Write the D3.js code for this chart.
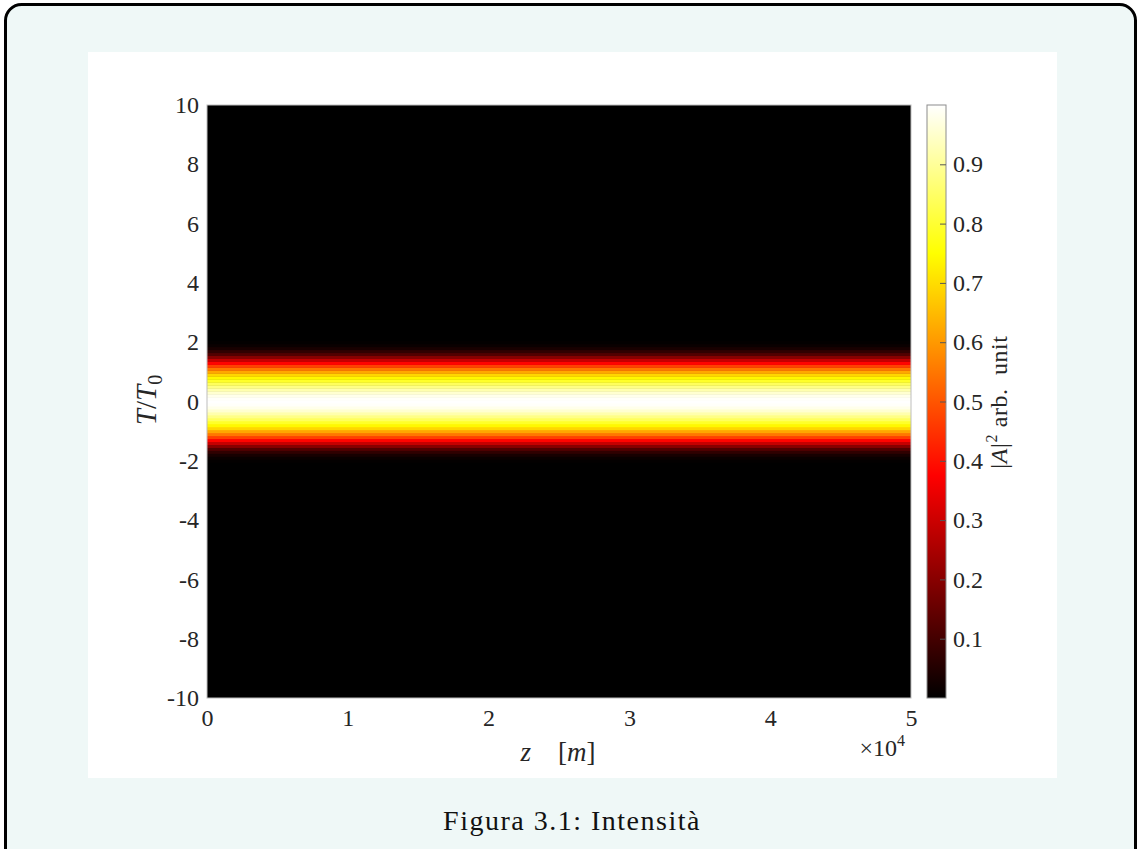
<!DOCTYPE html>
<html>
<head>
<meta charset="utf-8">
<script src="https://cdn.jsdelivr.net/npm/d3@7"></script>
<style>
  html, body { margin: 0; padding: 0; background: #ffffff; }
  svg { display: block; }
  text { font-family: "Liberation Serif", "DejaVu Serif", serif; fill: #262626; }
</style>
</head>
<body>
<div id="chart"></div>
<script>
// z axis (metres) and its tick labels (shown x10^4)
var zRange = [0, 50000];
var zTicks = [0, 10000, 20000, 30000, 40000, 50000];
var zTickLabels = ["0", "1", "2", "3", "4", "5"];

// T/T0 axis
var tRange = [-10, 10];
var tTicks = [-10, -8, -6, -4, -2, 0, 2, 4, 6, 8, 10];

// intensity profile |A|^2 across T/T0 (same at every z)
var profileT = [-2.0, -1.9, -1.8, -1.7, -1.6, -1.5, -1.4, -1.3, -1.2, -1.1, -1.0,
                -0.9, -0.8, -0.7, -0.6, -0.5, -0.4, -0.3, -0.2, -0.1, 0.0,
                0.1, 0.2, 0.3, 0.4, 0.5, 0.6, 0.7, 0.8, 0.9, 1.0,
                1.1, 1.2, 1.3, 1.4, 1.5, 1.6, 1.7, 1.8, 1.9, 2.0];
var profileI = [0.005, 0.015, 0.035, 0.07, 0.12, 0.20, 0.29, 0.38, 0.47, 0.55, 0.62,
                0.69, 0.74, 0.79, 0.84, 0.88, 0.92, 0.955, 0.98, 0.995, 1.0,
                0.995, 0.98, 0.955, 0.92, 0.88, 0.84, 0.79, 0.74, 0.69, 0.62,
                0.55, 0.47, 0.38, 0.29, 0.20, 0.12, 0.07, 0.035, 0.015, 0.005];

// colour bar
var cRange = [0, 1];
var cTicks = [0.1, 0.2, 0.3, 0.4, 0.5, 0.6, 0.7, 0.8, 0.9];

var W = 1140, H = 849;
var svg = d3.select("#chart").append("svg")
    .attr("width", W).attr("height", H);

// page box
svg.append("rect")
    .attr("x", 5.5).attr("y", 4.5)
    .attr("width", 1130).attr("height", 880)
    .attr("rx", 16).attr("ry", 16)
    .style("fill", "#eff8f7")
    .style("stroke", "#000").style("stroke-width", 3);

// white figure panel
svg.append("rect")
    .attr("x", 88).attr("y", 52)
    .attr("width", 969).attr("height", 726)
    .style("fill", "#ffffff");

var x = d3.scaleLinear().domain(zRange).range([207, 911]);
var y = d3.scaleLinear().domain(tRange).range([698, 105]);

// MATLAB "hot"
var hot = d3.scaleLinear()
    .domain([0, 0.375, 0.75, 1])
    .range(["#000000", "#ff0000", "#ffff00", "#ffffff"])
    .clamp(true);

// heat map
var plot = svg.append("g");
plot.append("rect")
    .attr("x", x(zRange[0])).attr("y", y(tRange[1]))
    .attr("width", x(zRange[1]) - x(zRange[0]))
    .attr("height", y(tRange[0]) - y(tRange[1]))
    .style("fill", hot(0));

var dT = 0.1;
plot.selectAll("rect.row")
    .data(profileT)
    .enter().append("rect")
    .attr("class", "row")
    .attr("x", x(zRange[0]))
    .attr("width", x(zRange[1]) - x(zRange[0]))
    .attr("y", function (d) { return y(d + dT / 2); })
    .attr("height", function (d) { return y(d - dT / 2) - y(d + dT / 2) + 0.5; })
    .style("fill", function (d, i) { return hot(profileI[i]); });

plot.append("rect")
    .attr("x", x(zRange[0])).attr("y", y(tRange[1]))
    .attr("width", x(zRange[1]) - x(zRange[0]))
    .attr("height", y(tRange[0]) - y(tRange[1]))
    .style("fill", "none").style("stroke", "#bdbdbd").style("stroke-width", 1);

// axes
var xAxis = d3.axisBottom(x).tickValues(zTicks)
    .tickFormat(function (d, i) { return zTickLabels[i]; })
    .tickSize(0).tickPadding(11);
var gx = svg.append("g").attr("transform", "translate(0,698)").call(xAxis);
gx.select(".domain").remove();
gx.selectAll("text").style("font-size", "24px").style("fill", "#262626")
    .attr("font-family", null);

var yAxis = d3.axisLeft(y).tickValues(tTicks).tickSize(0).tickPadding(8)
    .tickFormat(function (d) { return String(d); });
var gy = svg.append("g").attr("transform", "translate(207,0)").call(yAxis);
gy.select(".domain").remove();
gy.selectAll("text").style("font-size", "24px").style("fill", "#262626")
    .attr("font-family", null);

// axis labels
var xl = svg.append("text")
    .attr("x", 558).attr("y", 761)
    .attr("text-anchor", "middle")
    .style("font-size", "27px");
xl.append("tspan").style("font-style", "italic").text("z");
xl.append("tspan").attr("xml:space", "preserve").text("\u2003[");
xl.append("tspan").style("font-style", "italic").text("m");
xl.append("tspan").text("]");

var ex = svg.append("text")
    .attr("x", 905).attr("y", 756)
    .attr("text-anchor", "end")
    .style("font-size", "24px");
ex.append("tspan").text("\u00d710");
ex.append("tspan").attr("dy", -10).style("font-size", "16px").text("4");

var yl = svg.append("text")
    .attr("transform", "translate(156,400) rotate(-90)")
    .attr("text-anchor", "middle")
    .style("font-size", "29px");
yl.append("tspan").style("font-style", "italic").text("T");
yl.append("tspan").text("/");
yl.append("tspan").style("font-style", "italic").text("T");
yl.append("tspan").attr("dy", 6).style("font-size", "20px").text("0");

// colour bar
var cbX = 927, cbW = 19;
var c = d3.scaleLinear().domain(cRange).range([698, 105]);

var grad = svg.append("defs").append("linearGradient")
    .attr("id", "hotgrad")
    .attr("x1", 0).attr("y1", 1).attr("x2", 0).attr("y2", 0);
grad.selectAll("stop")
    .data(hot.domain())
    .enter().append("stop")
    .attr("offset", function (d) { return d; })
    .attr("stop-color", function (d) { return hot(d); });

svg.append("rect")
    .attr("x", cbX).attr("y", c(cRange[1]))
    .attr("width", cbW).attr("height", c(cRange[0]) - c(cRange[1]))
    .style("fill", "url(#hotgrad)")
    .style("stroke", "#8c8c8c").style("stroke-width", 1);

var cAxis = d3.axisRight(c).tickValues(cTicks).tickSize(-6).tickPadding(7)
    .tickFormat(d3.format(".1f"));
var gc = svg.append("g").attr("transform", "translate(" + (cbX + cbW) + ",0)").call(cAxis);
gc.select(".domain").remove();
gc.selectAll("line").style("stroke", "#555");
gc.selectAll("text").style("font-size", "24px").style("fill", "#262626")
    .attr("font-family", null);

var cl = svg.append("text")
    .attr("transform", "translate(1007,402) rotate(-90)")
    .attr("text-anchor", "middle")
    .style("font-size", "24px").style("letter-spacing", "0.6px");
cl.append("tspan").text("|");
cl.append("tspan").style("font-style", "italic").text("A");
cl.append("tspan").text("|");
cl.append("tspan").attr("dy", -10).style("font-size", "16px").text("2");
cl.append("tspan").attr("dy", 10).attr("xml:space", "preserve").text(" arb.  unit");

// caption
svg.append("text")
    .attr("x", 572).attr("y", 830)
    .attr("text-anchor", "middle")
    .style("font-size", "28px").style("fill", "#111")
    .style("letter-spacing", "1.5px")
    .text("Figura 3.1: Intensit\u00e0");
</script>
</body>
</html>
